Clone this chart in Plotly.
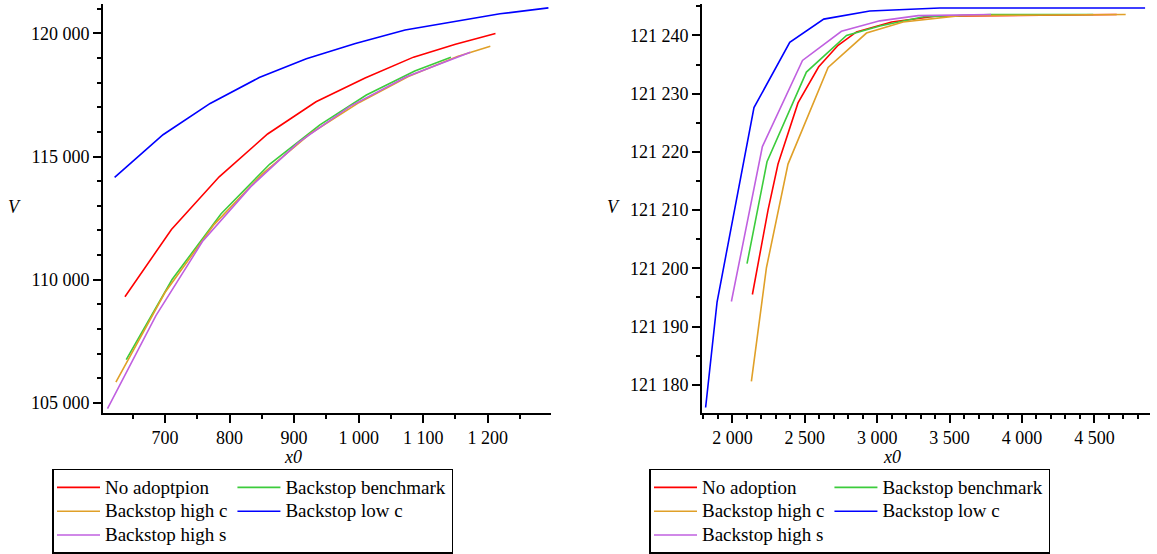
import plotly.graph_objects as go

W, H = 1157, 554
FONT = "Liberation Serif, Times New Roman, Times, serif"

names_left = ["No adoptpion", "Backstop benchmark", "Backstop high c", "Backstop low c", "Backstop high s"]
names_right = ["No adoption", "Backstop benchmark", "Backstop high c", "Backstop low c", "Backstop high s"]
colors = ["#ff0000", "#3ccc3c", "#e0a028", "#0000ff", "#c060e0"]
groups = ["g1", "g2", "g1", "g2", "g1"]

# Left panel data
L_red_x = [638, 710, 784, 859, 934, 1010, 1085, 1150, 1212]
L_red_y = [109310, 112040, 114180, 115920, 117230, 118190, 119040, 119560, 120000]
L_green_x = [640, 711, 787, 862, 940, 1012, 1087, 1143]
L_green_y = [106760, 110010, 112680, 114690, 116290, 117500, 118480, 119040]
L_orange_x = [624, 700, 776, 851, 926, 1001, 1077, 1153, 1204]
L_orange_y = [105840, 109480, 112240, 114300, 115950, 117200, 118250, 119070, 119480]
L_blue_x = [622, 697, 770, 846, 919, 995, 1072, 1146, 1219, 1294]
L_blue_y = [114160, 115890, 117160, 118210, 118970, 119590, 120140, 120480, 120800, 121040]
L_purple_x = [611, 686, 758, 833, 906, 986, 1074, 1173]
L_purple_y = [104770, 108540, 111550, 113780, 115560, 117030, 118240, 119240]

# Right panel data
R_red_x = [2138, 2246, 2315, 2453, 2596, 2730, 2857, 3100, 3400, 4654]
R_red_y = [121195.5, 121210.0, 121217.9, 121228.4, 121234.6, 121238.3, 121240.6, 121242.3, 121243.3, 121243.6]
R_green_x = [2101, 2239, 2511, 2788, 3018, 3320, 3786, 4492]
R_green_y = [121200.8, 121218.3, 121233.7, 121240.0, 121241.6, 121243.2, 121243.6, 121243.6]
R_orange_x = [2131, 2235, 2384, 2661, 2926, 3179, 3571, 4716]
R_orange_y = [121180.6, 121200.1, 121217.9, 121234.5, 121240.4, 121242.3, 121243.4, 121243.6]
R_blue_x = [1815, 1894, 2149, 2396, 2631, 2949, 3433, 4850]
R_blue_y = [121176.1, 121194.2, 121227.6, 121238.8, 121242.8, 121244.2, 121244.7, 121244.7]
R_purple_x = [1993, 2207, 2484, 2753, 3018, 3283, 3786]
R_purple_y = [121194.3, 121220.9, 121235.7, 121240.7, 121242.5, 121243.4, 121243.6]

left_series = [(L_red_x, L_red_y), (L_green_x, L_green_y), (L_orange_x, L_orange_y),
               (L_blue_x, L_blue_y), (L_purple_x, L_purple_y)]
right_series = [(R_red_x, R_red_y), (R_green_x, R_green_y), (R_orange_x, R_orange_y),
                (R_blue_x, R_blue_y), (R_purple_x, R_purple_y)]


def legend_label(s):
    return "<span style='font-size:19px'>" + s + "</span>"


fig = go.Figure()
for i, (xs, ys) in enumerate(left_series):
    fig.add_trace(go.Scatter(x=xs, y=ys, mode="lines", name=legend_label(names_left[i]),
                             line=dict(color=colors[i], width=1.6),
                             legendgroup="L" + groups[i], legend="legend",
                             xaxis="x", yaxis="y"))
for i, (xs, ys) in enumerate(right_series):
    fig.add_trace(go.Scatter(x=xs, y=ys, mode="lines", name=legend_label(names_right[i]),
                             line=dict(color=colors[i], width=1.6),
                             legendgroup="R" + groups[i], legend="legend2",
                             xaxis="x2", yaxis="y2"))

ydom = [1 - 418 / H, 1 - 4 / H]
axis_common = dict(showline=True, linecolor="black", linewidth=2, ticks="outside",
                   ticklen=8, tickwidth=1.5, tickcolor="black", showgrid=False,
                   zeroline=False, separatethousands=True, tickformat=",d",
                   tickfont=dict(family=FONT, size=18, color="black"))
minor_common = dict(ticklen=4, tickwidth=1.5, ticks="outside", tickcolor="black", showgrid=False)
legend_common = dict(orientation="h", traceorder="grouped", xanchor="left",
                     y=1 - 475 / H, yanchor="top", bordercolor="black", borderwidth=1.5,
                     tracegroupgap=0, itemwidth=43,
                     font=dict(family=FONT, size=16, color="black"),
                     bgcolor="white")

fig.update_layout(
    width=W, height=H,
    margin=dict(l=0, r=0, t=0, b=0),
    paper_bgcolor="white", plot_bgcolor="white",
    separators=". ",
    font=dict(family=FONT, size=18, color="black"),
    showlegend=True,
    xaxis=dict(domain=[103 / W, 551 / W], range=[604, 1298], dtick=100, tick0=0,
               minor=dict(dtick=50, **minor_common), anchor="y", **axis_common),
    yaxis=dict(domain=ydom, range=[104600, 121200], dtick=5000, tick0=0,
               minor=dict(dtick=1000, **minor_common), anchor="x", **axis_common),
    xaxis2=dict(domain=[702 / W, 1150 / W], range=[1790, 4884], dtick=500, tick0=0,
                minor=dict(dtick=100, **minor_common), anchor="y2", **axis_common),
    yaxis2=dict(domain=ydom, range=[121175.2, 121245.4], dtick=10, tick0=0,
                minor=dict(dtick=5, **minor_common), anchor="x2", **axis_common),
    legend=dict(x=52 / W, **legend_common),
    legend2=dict(x=649 / W, **legend_common),
    annotations=[
        dict(text="<i>V</i>", x=14 / W, y=1 - 210 / H, xref="paper", yref="paper",
             xanchor="center", yanchor="middle", showarrow=False, font=dict(family=FONT, size=18)),
        dict(text="<i>V</i>", x=613 / W, y=1 - 210 / H, xref="paper", yref="paper",
             xanchor="center", yanchor="middle", showarrow=False, font=dict(family=FONT, size=18)),
        dict(text="<i>x0</i>", x=293 / W, y=1 - 463 / H, xref="paper", yref="paper",
             xanchor="center", yanchor="middle", showarrow=False, font=dict(family=FONT, size=18)),
        dict(text="<i>x0</i>", x=892 / W, y=1 - 463 / H, xref="paper", yref="paper",
             xanchor="center", yanchor="middle", showarrow=False, font=dict(family=FONT, size=18)),
    ],
)

fig.write_html("out.html", config={"displayModeBar": False},
               post_script="document.body.style.margin='0';")
